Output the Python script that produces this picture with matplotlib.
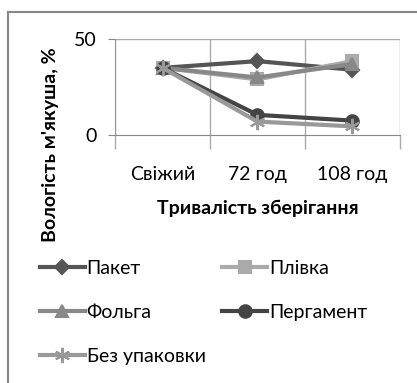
import matplotlib.pyplot as plt

plt.rcParams['font.family'] = ['Lato', 'DejaVu Sans']

categories = ['Свіжий', '72 год', '108 год']
paket = [35, 38.5, 34]
plivka = [35, 29, 38.5]
folga = [35, 30, 37]
pergament = [35, 10.5, 7.5]
bez_upakovky = [35, 7, 4.5]

series = [
    ('Пакет', paket, '#555555', 'D', 7),
    ('Плівка', plivka, '#aaaaaa', 's', 9),
    ('Фольга', folga, '#888888', '^', 9),
    ('Пергамент', pergament, '#444444', 'o', 9),
    ('Без упаковки', bez_upakovky, '#999999', (6, 2, 0), 11),
]

fig = plt.figure(figsize=(4.17, 3.83), dpi=100)
ax = fig.add_axes([0.276, 0.6475, 0.683, 0.2505])

x = range(len(categories))
lines = {}
for name, vals, col, mk, ms in series:
    lines[name], = ax.plot(x, vals, color=col, lw=3, marker=mk, ms=ms, mec=col,
                           mew=1.5, label=name)

ax.set_xlim(-0.5, 2.5)
ax.set_ylim(0, 50)
ax.set_yticks([0, 50])
ax.set_xticks(list(x))
ax.set_xticklabels(categories, fontsize=14)
ax.tick_params(axis='y', labelsize=14, length=5, color='#888888', pad=8)
ax.tick_params(axis='x', length=0, pad=22)

# vertical lines between categories, with ticks under the axis
ax.set_xticks([-0.5, 0.5, 1.5, 2.5], minor=True)
ax.tick_params(axis='x', which='minor', length=10, color='#aaaaaa', width=1)
ax.grid(True, which='minor', axis='x', color='#aaaaaa', lw=1)
ax.axhline(50, color='#aaaaaa', lw=1)

for side in ['top', 'right']:
    ax.spines[side].set_visible(False)
ax.spines['left'].set_color('#999999')
ax.spines['bottom'].set_color('#888888')

ax.set_xlabel('Тривалість зберігання', fontsize=14, fontweight='bold', labelpad=12)
fig.text(0.122, 0.621, "Вологість м'якуша, %", rotation=90, fontsize=14,
         fontweight='bold', ha='center', va='center')

# legend filled row by row: Пакет, Плівка / Фольга, Пергамент / Без упаковки
order = ['Пакет', 'Фольга', 'Без упаковки', 'Плівка', 'Пергамент']
fig.legend([lines[n] for n in order], order, loc='upper left',
           bbox_to_anchor=(0.096, 0.321), ncol=2, frameon=False, fontsize=14,
           handlelength=2.3, columnspacing=0.85, labelspacing=1.38,
           handletextpad=0.1, borderpad=0, borderaxespad=0)

# frame lines along top and left
fig.add_artist(plt.Line2D([0.019, 1.0], [0.968, 0.968], color='#888888', lw=1.5))
fig.add_artist(plt.Line2D([0.019, 0.019], [0.0, 0.968], color='#888888', lw=1.5))

fig.savefig('out.png', dpi=100)
